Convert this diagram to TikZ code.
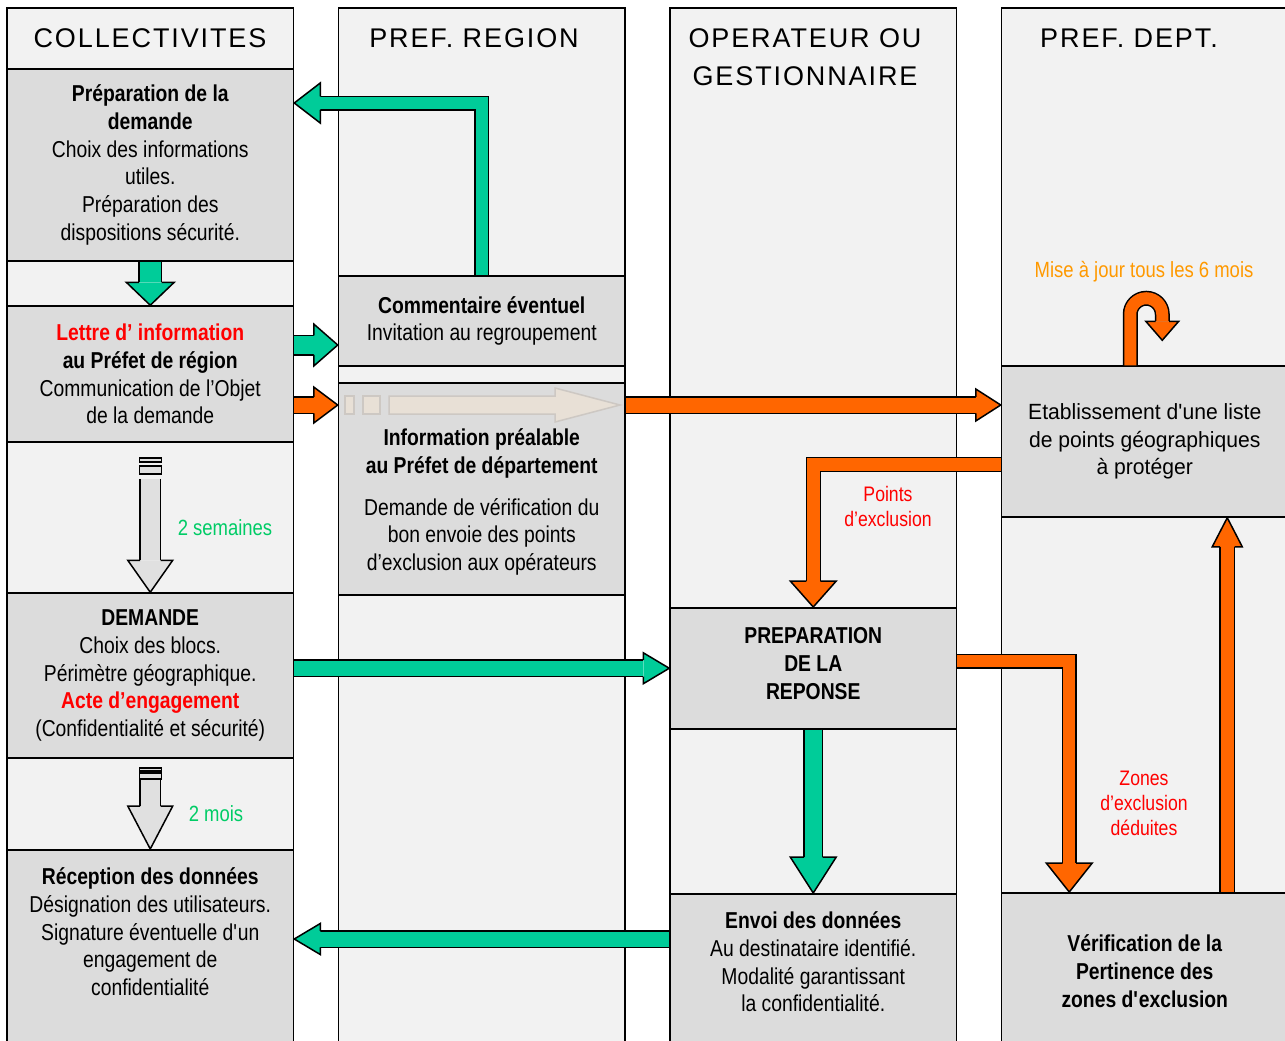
\documentclass[tikz,border=0pt]{standalone}
\usepackage{fontspec}
\setmainfont{Liberation Sans}[FakeStretch=0.84]
\newfontfamily\hdfont{Liberation Sans}[LetterSpace=7]
\newfontfamily\widefont{Liberation Sans}[FakeStretch=0.96]
\usetikzlibrary{calc}

\definecolor{lanegray}{RGB}{242,242,242}
\definecolor{boxgray}{RGB}{220,220,220}
\definecolor{waitgray}{RGB}{224,224,224}
\definecolor{grn}{RGB}{0,204,153}
\definecolor{org}{RGB}{255,102,0}
\definecolor{txtgrn}{RGB}{0,204,102}
\definecolor{txtorg}{RGB}{255,153,0}
\definecolor{ghost}{RGB}{232,224,214}
\definecolor{ghostline}{RGB}{205,200,195}

% block arrow head: length/half width/half shaft/colour
\tikzset{
  pics/bhead/.style args={#1/#2/#3/#4}{code={
    \fill[#4] (0,0) -- (-#1,#2) -- (-#1,-#2) -- cycle;
    \draw[line width=1.5pt, line join=miter] (-#1,#3) -- (-#1,#2) -- (0,0) -- (-#1,-#2) -- (-#1,-#3);
  }}
}

\begin{document}
\begin{tikzpicture}[x=1pt, y=-1pt,
    lane/.style={draw=black, line width=1.5pt, fill=lanegray},
    taskbox/.style={draw=black, line width=1.5pt, fill=boxgray, minimum width=286.5pt,
      inner sep=0pt, align=center, font=\fontsize{23}{27.7}\selectfont},
    lanetitle/.style={font=\hdfont\fontsize{27}{38}\selectfont, align=center},
    lbl/.style={font=\fontsize{22}{25}\selectfont, align=center},
    lblsmall/.style={font=\fontsize{21}{25}\selectfont, align=center},
    gshaft/.style={draw=black, line width=1.5pt, double=grn, double distance=#1, line join=miter},
    oshaft/.style={draw=black, line width=1.5pt, double=org, double distance=#1, line join=miter},
    wshaft/.style={draw=black, line width=1.5pt, double=waitgray, double distance=#1},
    bar/.style={draw=black, line width=1.5pt, fill=waitgray}]

    \useasboundingbox (0,0) rectangle (1285,1041);
    \clip (0,0) rectangle (1285,1041);

    % Lanes
    \foreach \x in {7,338.5,670,1001.5} {
        \draw[lane] (\x,8) rectangle ++(286.5,1060);
    }

    % Lane titles
    \node[lanetitle] (t1) at (150,38) {COLLECTIVITES};
    \node[lanetitle] (t2) at (474,38) {PREF. REGION};
    \node[lanetitle] (t3) at (805,57) {OPERATEUR OU\\GESTIONNAIRE};
    \node[lanetitle] (t4) at (1129,38) {PREF. DEPT.};

    % Boxes
    \node[taskbox, minimum height=192pt] (b1) at (150.25,165)
        {\bfseries Préparation de la\\\bfseries demande\\\mdseries Choix des informations\\utiles.\\Préparation des\\dispositions sécurité.};
    \node[taskbox, minimum height=136pt] (b2) at (150.25,374)
        {\textcolor{red}{\bfseries Lettre d’ information}\\\textbf{au Préfet de région}\\Communication de l’Objet\\de la demande};
    \node[taskbox, minimum height=165pt] (b3) at (150.25,675.5)
        {\textbf{DEMANDE}\\Choix des blocs.\\Périmètre géographique.\\\textcolor{red}{\bfseries Acte d’engagement}\\(Confidentialité et sécurité)};
    \node[taskbox, anchor=north] (b4) at (150.25,849)
        {\parbox[c][210pt][t]{280pt}{\centering\vspace*{15.6pt}\strut\textbf{Réception des données}\\Désignation des utilisateurs.\\Signature éventuelle d\textquotesingle un\\engagement de\\confidentialité}};

    \node[taskbox, minimum height=90pt] (c1) at (481.75,321)
        {\textbf{Commentaire éventuel}\\Invitation au regroupement};
    \node[taskbox, anchor=north] (c2) at (481.75,382)
        {\parbox[c][212pt][t]{280pt}{\centering\vspace*{43.6pt}\strut\textbf{Information préalable}\\\textbf{au Préfet de département}\\[14pt]Demande de vérification du\\bon envoie des points\\d’exclusion aux opérateurs}};

    \node[taskbox, anchor=north] (d1) at (813.25,607)
        {\parbox[c][121pt][t]{280pt}{\centering\vspace*{16.6pt}\strut\textbf{PREPARATION}\\\textbf{DE LA}\\\textbf{REPONSE}}};
    \node[taskbox, anchor=north] (d2) at (813.25,893)
        {\parbox[c][170pt][t]{280pt}{\centering\vspace*{15.6pt}\strut\textbf{Envoi des données}\\Au destinataire identifié.\\Modalité garantissant\\la confidentialité.}};

    \node[taskbox, minimum height=151pt, font=\widefont\fontsize{22}{27.7}\selectfont] (e1) at (1144.75,441.5)
        {Etablissement d\textquotesingle une liste\\de points géographiques\\à protéger};
    \node[taskbox, anchor=north] (e2) at (1144.75,892)
        {\parbox[c][170pt][t]{280pt}{\centering\vspace*{39.6pt}\strut\textbf{Vérification de la}\\\textbf{Pertinence des}\\\textbf{zones d\textquotesingle exclusion}}};

    % Faded arrow inside c2
    \draw[ghostline, fill=ghost, line width=1.5pt] (345,396) rectangle (354,414);
    \draw[ghostline, fill=ghost, line width=1.5pt] (363,396) rectangle (380,414);
    \draw[ghostline, fill=ghost, line width=1.5pt] (389,396) -- (555,396) -- (555,388) -- (620,405)
        -- (555,422) -- (555,414) -- (389,414) -- cycle;

    % Waiting arrows
    \draw[bar] ($(b2.south)+(-11,15)$) rectangle ++(22,4);
    \draw[bar] ($(b2.south)+(-11,23)$) rectangle ++(22,8);
    \draw[wshaft=19pt] ($(b2.south)+(0,36)$) -- ($(b3.north)+(0,-32)$);
    \pic[rotate=-90] at (b3.north) {bhead=32/22.5/10.25/waitgray};

    \draw[bar] ($(b3.south)+(-11,9)$) rectangle ++(22,3);
    \draw[bar] ($(b3.south)+(-11,14)$) rectangle ++(22,6);
    \draw[wshaft=19pt] ($(b3.south)+(0,21)$) -- ($(b4.north)+(0,-43)$);
    \pic[rotate=-90] at (b4.north) {bhead=43/22.5/10.25/waitgray};

    % Green arrows
    \draw[gshaft=21pt] (b1.south) -- ($(b2.north)+(0,-23)$);
    \pic[rotate=-90] at (b2.north) {bhead=23/24/11.25/grn};

    \coordinate (p2) at ($(b2.east)+(0,-29)$);
    \draw[gshaft=18pt] (p2) -- ($(p2 -| c1.west)+(-24,0)$);
    \pic at (p2 -| c1.west) {bhead=24/21/9.75/grn};

    \coordinate (p5) at ($(b1.east)+(0,-62)$);
    \draw[gshaft=12pt] (c1.north) |- ($(p5)+(26,0)$);
    \pic[rotate=180] at (p5) {bhead=26/20/6.75/grn};

    \draw[gshaft=15pt] (d1.west -| b3.east) -- ($(d1.west)+(-26,0)$);
    \pic at (d1.west) {bhead=26/15.5/8.25/grn};

    \draw[gshaft=17pt] (d1.south) -- ($(d2.north)+(0,-36)$);
    \pic[rotate=-90] at (d2.north) {bhead=36/23/9.25/grn};

    \coordinate (p11) at ($(d2.north west)+(0,46)$);
    \draw[gshaft=15pt] (p11) -- ($(p11 -| b4.east)+(26,0)$);
    \pic[rotate=180] at (p11 -| b4.east) {bhead=26/15.5/8.25/grn};

    % Orange arrows
    \coordinate (p3) at ($(b2.east)+(0,31)$);
    \draw[oshaft=15pt] (p3) -- ($(p3 -| c2.west)+(-24,0)$);
    \pic at (p3 -| c2.west) {bhead=24/18/8.25/org};

    \draw[oshaft=15pt] (p3 -| c2.east) -- ($(p3 -| e1.west)+(-25,0)$);
    \pic at (p3 -| e1.west) {bhead=25/16/8.25/org};

    \coordinate (p6) at ($(e1.west)+(0,23)$);
    \draw[oshaft=12.5pt] (p6) -| ($(d1.north)+(0,-26)$);
    \pic[rotate=-90] at (d1.north) {bhead=26/23/7/org};

    \coordinate (p8) at ($(d1.east)+(0,-7)$);
    \coordinate (p8e) at ($(e2.north west)+(68.5,0)$);
    \draw[oshaft=12pt] (p8) -| ($(p8e)+(0,-29)$);
    \pic[rotate=-90] at (p8e) {bhead=29/23/6.75/org};

    \coordinate (p9) at ($(e2.north west)+(226.5,0)$);
    \draw[oshaft=13pt] (p9) -- ($(p9 |- e1.south)+(0,29)$);
    \pic[rotate=90] at (p9 |- e1.south) {bhead=29/15/7.25/org};

    \coordinate (p12) at ($(e1.north west)+(129.5,0)$);
    \draw[oshaft=12pt] (p12) -- ++(0,-51) arc[start angle=180, end angle=360, radius=16] -- ++(0,7);
    \pic[rotate=-90] at ($(p12)+(32,-25)$) {bhead=19/16.5/6.75/org};

    % Labels
    \node[lbl, text=txtgrn] (l1) at (225,528) {2 semaines};
    \node[lbl, text=txtgrn] (l2) at (216,814) {2 mois};
    \node[lbl, text=txtorg] (l3) at (1144,272) {Mise à jour tous les 6 mois};
    \node[lblsmall, text=red] (l4) at (888,506) {Points\\d’exclusion};
    \node[lblsmall, text=red] (l5) at (1144,803) {Zones\\d’exclusion\\déduites};

\end{tikzpicture}
\end{document}
